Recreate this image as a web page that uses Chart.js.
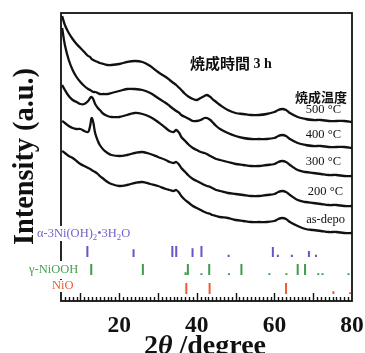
<!DOCTYPE html>
<html><head><meta charset="utf-8">
<script src="https://cdn.jsdelivr.net/npm/chart.js@4.4.1/dist/chart.umd.min.js"></script>
<style>html,body{margin:0;padding:0;background:#fff;overflow:hidden}</style>
</head><body><canvas id="c" width="365" height="353"></canvas>
<script>
// ---- data ----
const twoTheta = [5.3, 6, 7, 8, 9, 10, 11, 12, 12.5, 12.9, 13.3, 13.8, 14.5, 15, 16, 17, 18, 20, 22, 24, 26, 28, 30, 32, 33, 34, 34.7, 35.5, 36, 37, 38, 39, 40, 41, 42, 42.6, 43.5, 44, 45, 46, 48, 50, 52, 54, 56, 58, 60, 61, 62, 63, 64, 66, 68, 70, 72, 74, 76, 78, 80];
const int500 = [285, 276, 268, 262, 257, 253, 249, 245, 244, 242, 241, 240, 239, 238, 237, 236, 236, 237, 239, 240, 239, 235, 229, 224, 221, 218, 216, 213, 211, 207, 204, 202, 201, 203, 205, 206, 204, 202, 199, 196, 191, 188, 187, 186, 186, 187, 189, 191, 192, 191, 188, 184, 182, 181, 181, 180, 180, 180, 179];
const int400 = [273, 256, 241, 231, 224, 219, 215, 212, 211, 210, 209, 209, 208, 207, 207, 207, 208, 210, 212, 212, 211, 208, 203, 198, 195, 192, 190, 188, 186, 184, 182, 180, 180, 181, 183, 183, 181, 179, 175, 172, 168, 165, 163, 162, 162, 162, 163, 165, 166, 165, 162, 158, 156, 155, 155, 154, 154, 154, 153];
const int300 = [216, 211, 205, 201, 199, 197, 197, 200, 203, 204, 202, 197, 193, 191, 187, 185, 184, 184, 186, 188, 187, 184, 179, 173, 170, 169, 171, 168, 164, 160, 156, 153, 151, 149, 148, 147, 145, 144, 142, 141, 139, 137, 136, 135, 135, 136, 137, 139, 140, 139, 136, 131, 129, 128, 127, 126, 126, 125, 125];
const int200 = [180, 178, 175, 173, 172, 172, 170, 169, 175, 183, 179, 168, 160, 156, 151, 148, 146, 145, 146, 148, 149, 147, 144, 141, 139, 138, 139, 136, 133, 129, 125, 122, 120, 118, 116, 115, 114, 113, 111, 110, 108, 107, 106, 105, 105, 106, 107, 109, 110, 109, 106, 101, 99, 98, 97, 96, 96, 95, 95];
const intDepo = [150, 148, 145, 143, 140, 137, 135, 133, 132, 131, 130, 129, 127, 125, 122, 119, 117, 115, 116, 118, 119, 117, 115, 112, 111, 110, 111, 108, 105, 101, 98, 95, 93, 91, 89, 88, 87, 86, 85, 84, 83, 81, 80, 79, 79, 79, 80, 82, 83, 82, 79, 75, 72, 71, 70, 69, 69, 68, 68];
const sampleLabels = ['500 °C', '400 °C', '300 °C', '200 °C', 'as-depo'];

const alphaPos = [11.8, 23.7, 33.7, 34.7, 38.9, 41.2, 48.2, 59.6, 60.9, 64.5, 68.9, 70.7];
const alphaInt = [100, 70, 100, 100, 80, 100, 20, 90, 20, 20, 55, 20];
const gammaPos = [12.8, 26.1, 37.1, 37.7, 41.2, 43.2, 48.3, 51.5, 58.7, 63.1, 66.0, 67.9, 71.3, 72.4, 79.1];
const gammaInt = [100, 100, 25, 100, 15, 100, 15, 100, 15, 15, 100, 100, 15, 15, 15];
const nioPos = [37.3, 43.3, 63.0, 75.2, 79.5];
const nioInt = [100, 100, 100, 25, 15];

const xTickValues = [20, 40, 60, 80];

// ---- build ----
const STICK_SCALE = 0.11;
function sticks(pos, inten, base) {
  const pts = [];
  pos.forEach((p, i) => {
    pts.push({x: p, y: base}, {x: p, y: base + inten[i] * STICK_SCALE}, {x: p, y: null});
  });
  return pts;
}
function curve(arr) { return twoTheta.map((t, i) => ({x: t, y: arr[i]})); }

const PURPLE = '#6b52c6', GREEN = '#3d9b4a', ORANGE = '#f05a32';
const curveStyle = {borderColor: '#111', borderWidth: 2.3, pointRadius: 0, tension: 0.35, fill: false};
const stickStyle = {borderWidth: 2, pointRadius: 0, tension: 0, spanGaps: false, fill: false, borderCapStyle: 'butt'};

const datasets = [
  {label: sampleLabels[0], data: curve(int500), ...curveStyle},
  {label: sampleLabels[1], data: curve(int400), ...curveStyle},
  {label: sampleLabels[2], data: curve(int300), ...curveStyle},
  {label: sampleLabels[3], data: curve(int200), ...curveStyle},
  {label: sampleLabels[4], data: curve(intDepo), ...curveStyle},
  {label: 'alpha', data: sticks(alphaPos, alphaInt, 44), borderColor: PURPLE, ...stickStyle},
  {label: 'gamma', data: sticks(gammaPos, gammaInt, 26), borderColor: GREEN, ...stickStyle},
  {label: 'NiO', data: sticks(nioPos, nioInt, 7), borderColor: ORANGE, ...stickStyle}
];

const SERIF = '"Liberation Serif", "Times New Roman", serif';
const CJK = '"Noto Sans CJK JP", sans-serif';

function drawSegs(ctx, segs, x, y, size, color, align) {
  ctx.fillStyle = color;
  ctx.textBaseline = 'middle';
  ctx.textAlign = 'left';
  let w = 0;
  segs.forEach(([t, sub]) => { ctx.font = (sub ? size * 0.7 : size) + 'px ' + SERIF; w += ctx.measureText(t).width; });
  let cx = align === 'right' ? x - w : x;
  segs.forEach(([t, sub]) => {
    ctx.font = (sub ? size * 0.7 : size) + 'px ' + SERIF;
    ctx.fillText(t, cx, sub ? y + size * 0.3 : y);
    cx += ctx.measureText(t).width;
  });
  return w;
}

const decor = {
  id: 'decor',
  beforeDatasetsDraw(chart) {
    const {ctx, chartArea: a, scales: {x}} = chart;
    ctx.save();
    ctx.strokeStyle = '#111';
    ctx.lineWidth = 1.8;
    ctx.strokeRect(a.left, a.top, a.right - a.left, a.bottom - a.top);
    ctx.lineWidth = 1.4;
    for (let v = 6; v < 80; v++) {
      const px = Math.round(x.getPixelForValue(v)) + 0.5;
      const len = v % 10 === 0 ? 8 : 4;
      ctx.beginPath(); ctx.moveTo(px, a.bottom); ctx.lineTo(px, a.bottom - len); ctx.stroke();
    }
    ctx.restore();
  },
  afterDatasetsDraw(chart) {
    const {ctx} = chart;
    ctx.save();
    ctx.fillStyle = '#fff';
    ctx.fillRect(36, 226, 97, 15);
    ctx.fillRect(28, 261, 54, 18);
    ctx.fillRect(50, 280, 25, 12);
    drawSegs(ctx, [['α-3Ni(OH)', 0], ['2', 1], ['•3H', 0], ['2', 1], ['O', 0]], 37, 233.5, 12.5, '#7460cc', 'left');
    drawSegs(ctx, [['γ-NiOOH', 0]], 29, 270, 12.5, '#46a050', 'left');
    drawSegs(ctx, [['NiO', 0]], 52, 285.5, 12.5, ORANGE, 'left');

    const ys = [110, 135, 162, 192, 220];
    const rs = [341, 341, 341, 343, 345];
    sampleLabels.forEach((t, i) => drawSegs(ctx, [[t, 0]], rs[i], ys[i], 12.5, '#111', 'right'));

    ctx.fillStyle = '#111';
    ctx.textBaseline = 'middle';
    ctx.textAlign = 'right';
    ctx.font = 'bold 13px ' + CJK;
    ctx.fillText('焼成温度', 347, 97);

    ctx.textAlign = 'left';
    ctx.font = 'bold 15px ' + CJK;
    ctx.fillText('焼成時間', 190, 63);
    const w1 = ctx.measureText('焼成時間').width;
    ctx.font = 'bold 14px ' + SERIF;
    ctx.fillText(' 3 h', 190 + w1, 64);

    ctx.save();
    ctx.translate(33, 156.5);
    ctx.rotate(-Math.PI / 2);
    ctx.font = 'bold 30px ' + SERIF;
    ctx.textBaseline = 'alphabetic';
    ctx.textAlign = 'center';
    const t = 'Intensity (a.u.)';
    const tw = ctx.measureText(t).width;
    ctx.scale(177 / tw, 1);
    ctx.fillText(t, 0, 0);
    ctx.restore();

    const parts = [['2', 'bold 28px ' + SERIF], ['θ', 'italic bold 28px ' + SERIF], [' /degree', 'bold 28px ' + SERIF]];
    let tot = 0;
    parts.forEach(([s, f]) => { ctx.font = f; tot += ctx.measureText(s).width; });
    let cx = 205 - tot / 2;
    ctx.textAlign = 'left';
    ctx.textBaseline = 'alphabetic';
    parts.forEach(([s, f]) => { ctx.font = f; ctx.fillText(s, cx, 354); cx += ctx.measureText(s).width; });
    ctx.restore();
  }
};

new Chart(document.getElementById('c'), {
  type: 'line',
  data: {datasets},
  options: {
    responsive: false,
    animation: false,
    devicePixelRatio: 1,
    layout: {padding: {left: 61, right: 13, top: 13, bottom: 0}},
    plugins: {legend: {display: false}, tooltip: {enabled: false}},
    scales: {
      x: {
        type: 'linear', min: 5, max: 80,
        grid: {display: false, drawTicks: false},
        border: {display: false},
        ticks: {font: {family: SERIF, size: 23.5, weight: 'bold'}, color: '#111', padding: 11, maxRotation: 0, autoSkip: false},
        afterBuildTicks: s => { s.ticks = xTickValues.map(v => ({value: v})); },
        afterFit: s => { s.height = 52; s.paddingLeft = 0; s.paddingRight = 0; }
      },
      y: {type: 'linear', min: 0, max: 288, display: false}
    }
  },
  plugins: [decor]
});
</script></body></html>
